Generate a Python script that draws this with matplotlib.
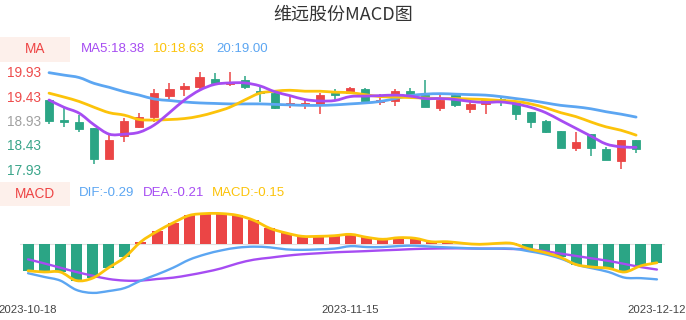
import numpy as np
import matplotlib.pyplot as plt
from matplotlib.patches import Rectangle, PathPatch
from matplotlib.path import Path

# ---- data ----
dates = ["2023-10-18", "2023-11-15", "2023-12-12"]
date_idx = [0, 20, 39]

opens = [19.34, 18.94, 18.89, 18.78, 18.15, 18.62, 18.80, 19.01, 19.44, 19.57,
         19.61, 19.79, 19.67, 19.75, 19.54, 19.50, 19.25, 19.27, 19.25, 19.49,
         19.49, 19.57, 19.30, 19.32, 19.53, 19.45, 19.18, 19.45, 19.16, 19.26,
         19.38, 19.30, 19.10, 18.91, 18.71, 18.36, 18.65, 18.34, 18.09, 18.53]
closes = [18.91, 18.90, 18.76, 18.15, 18.53, 18.91, 19.00, 19.50, 19.57, 19.64,
          19.83, 19.69, 19.69, 19.61, 19.49, 19.19, 19.29, 19.29, 19.45, 19.45,
          19.59, 19.32, 19.35, 19.53, 19.45, 19.21, 19.36, 19.25, 19.26, 19.34,
          19.33, 19.07, 18.89, 18.70, 18.37, 18.49, 18.36, 18.13, 18.53, 18.35]
highs = [19.36, 19.18, 19.04, 18.78, 18.63, 18.99, 19.08, 19.58, 19.69, 19.70,
         19.92, 19.91, 19.93, 19.84, 19.61, 19.50, 19.43, 19.35, 19.49, 19.57,
         19.61, 19.60, 19.47, 19.57, 19.60, 19.76, 19.45, 19.45, 19.35, 19.36,
         19.40, 19.30, 19.10, 18.94, 18.71, 18.69, 18.65, 18.39, 18.53, 18.53]
lows = [18.86, 18.80, 18.70, 18.03, 18.15, 18.48, 18.78, 18.89, 19.37, 19.43,
        19.56, 19.69, 19.63, 19.58, 19.30, 19.16, 19.19, 19.16, 19.07, 19.35,
        19.49, 19.32, 19.25, 19.22, 19.45, 19.21, 19.12, 19.21, 19.09, 19.06,
        19.23, 18.95, 18.78, 18.67, 18.37, 18.31, 18.20, 18.13, 17.93, 18.26]

ma5 = [19.35, 19.20, 19.08, 18.84, 18.65, 18.65, 18.69, 18.84, 19.09, 19.35,
       19.55, 19.67, 19.70, 19.70, 19.64, 19.52, 19.44, 19.36, 19.33, 19.34,
       19.42, 19.43, 19.44, 19.45, 19.43, 19.38, 19.38, 19.36, 19.32, 19.30,
       19.31, 19.27, 19.20, 19.09, 18.93, 18.77, 18.61, 18.45, 18.39, 18.38]
ma10 = [19.49, 19.41, 19.32, 19.20, 19.09, 19.04, 18.95, 18.94, 18.95, 18.97,
        19.02, 19.10, 19.20, 19.35, 19.49, 19.53, 19.55, 19.53, 19.53, 19.51,
        19.50, 19.46, 19.42, 19.41, 19.40, 19.39, 19.38, 19.38, 19.37, 19.36,
        19.34, 19.32, 19.27, 19.19, 19.09, 19.01, 18.90, 18.80, 18.73, 18.63]
ma20 = [19.91, 19.86, 19.81, 19.69, 19.61, 19.52, 19.45, 19.37, 19.34, 19.31,
        19.29, 19.28, 19.27, 19.27, 19.27, 19.26, 19.25, 19.24, 19.24, 19.25,
        19.27, 19.29, 19.32, 19.38, 19.44, 19.47, 19.48, 19.47, 19.46, 19.45,
        19.42, 19.38, 19.34, 19.29, 19.24, 19.21, 19.17, 19.11, 19.06, 19.00]

macd = [-0.22, -0.23, -0.23, -0.30, -0.28, -0.195, -0.11, 0.016, 0.10, 0.17,
        0.23, 0.245, 0.245, 0.23, 0.19, 0.125, 0.087, 0.06, 0.06, 0.065,
        0.076, 0.052, 0.036, 0.049, 0.044, 0.016, 0.016, 0.003, -0.005, 0.002,
        0.003, -0.04, -0.07, -0.11, -0.17, -0.19, -0.20, -0.23, -0.18, -0.155]
dif = [-0.24, -0.27, -0.30, -0.376, -0.40, -0.385, -0.36, -0.30, -0.25, -0.195,
       -0.13, -0.086, -0.054, -0.032, -0.024, -0.03, -0.046, -0.05, -0.046, -0.04,
       -0.02, -0.027, -0.027, -0.019, -0.016, -0.024, -0.03, -0.035, -0.04, -0.04,
       -0.04, -0.06, -0.084, -0.12, -0.17, -0.20, -0.23, -0.276, -0.28, -0.29]
dea = [-0.127, -0.16, -0.195, -0.23, -0.26, -0.287, -0.30, -0.30, -0.287, -0.276,
       -0.255, -0.23, -0.20, -0.16, -0.13, -0.114, -0.098, -0.086, -0.078, -0.07,
       -0.065, -0.06, -0.054, -0.049, -0.043, -0.04, -0.038, -0.038, -0.04, -0.04,
       -0.043, -0.046, -0.06, -0.08, -0.10, -0.12, -0.14, -0.165, -0.19, -0.21]

price_ticks = [17.93, 18.43, 18.93, 19.43, 19.93]
price_tick_colors = ["#3aa58a", "#3aa58a", "#a0a0a0", "#ee4b4b", "#ee4b4b"]

RED = "#eb4545"
GREEN = "#2ba585"
PURPLE = "#a64cf2"
YELLOW = "#fcc30a"
BLUE = "#5ca6f2"

W, H = 686, 320
fig = plt.figure(figsize=(W / 100, H / 100), dpi=100)
plt.rcParams["font.family"] = ["Liberation Sans", "DejaVu Sans"]


def px_axes(left, top, right, bottom):
    return fig.add_axes([left / W, 1 - bottom / H, (right - left) / W, (bottom - top) / H])


def smooth_line(ax, ys, color, lw, z):
    # curved line through the points (cubic bezier segments, like a smoothed echarts line)
    pts = np.column_stack([np.arange(len(ys)), ys]).astype(float)
    verts = [pts[0]]
    codes = [Path.MOVETO]
    n = len(pts)
    for i in range(n - 1):
        p0 = pts[max(i - 1, 0)]
        p1, p2 = pts[i], pts[i + 1]
        p3 = pts[min(i + 2, n - 1)]
        verts += [p1 + (p2 - p0) / 6, p2 - (p3 - p1) / 6, p2]
        codes += [Path.CURVE4] * 3
    ax.add_patch(PathPatch(Path(verts, codes), facecolor="none", edgecolor=color,
                           lw=lw, zorder=z, capstyle="round", joinstyle="round"))


x = np.arange(len(opens))

# ---- candlestick panel ----
ax = px_axes(41.5, 62, 643.6, 175)
for i in x:
    up = closes[i] >= opens[i]
    c = RED if up else GREEN
    ax.vlines(i, lows[i], highs[i], color=c, lw=1.1, zorder=2)
    lo, hi = min(opens[i], closes[i]), max(opens[i], closes[i])
    ax.add_patch(Rectangle((i - 0.27, lo), 0.54, max(hi - lo, 0.008),
                           facecolor=c, edgecolor=c, lw=0.6, zorder=3))
smooth_line(ax, ma20, BLUE, 2.0, 4)
smooth_line(ax, ma10, YELLOW, 2.0, 4)
smooth_line(ax, ma5, PURPLE, 2.0, 4)
ax.set_xlim(-0.5, len(opens) - 0.5)
ax.set_ylim(19.93 - (175 - 71.7) / 48.8, 19.93 + (71.7 - 62) / 48.8)
ax.set_yticks(price_ticks)
ax.set_yticklabels([f"{v:.2f}" for v in price_ticks], fontsize=9.8)
for lab, c in zip(ax.get_yticklabels(), price_tick_colors):
    lab.set_color(c)
ax.tick_params(axis="y", length=0, pad=0)
ax.set_xticks([])
for s in ax.spines.values():
    s.set_visible(False)
ax.patch.set_alpha(0)

# ---- MACD panel ----
ax2 = px_axes(20, 208, 665, 296)
bar_colors = [RED if v >= 0 else GREEN for v in macd]
ax2.bar(x, macd, width=0.68, color=bar_colors, zorder=2)
ax2.axhline(0, color="#e0e0e0", lw=0.8, zorder=1)
smooth_line(ax2, dea, PURPLE, 1.7, 3)
smooth_line(ax2, dif, BLUE, 1.7, 3)
smooth_line(ax2, macd, YELLOW, 2.0, 4)
ax2.set_xlim(-0.5, len(macd) - 0.5)
ax2.set_ylim(-(296 - 243.7) / 123, (243.7 - 208) / 123)
ax2.set_yticks([])
ax2.set_xticks(date_idx)
ax2.set_xticklabels(dates, fontsize=8.2, color="#444444")
ax2.tick_params(axis="x", length=0, pad=6.5)
for s in ax2.spines.values():
    s.set_visible(False)
ax2.patch.set_alpha(0)

# ---- title and legend rows ----
fig.text(343 / W, 1 - 15 / H, "维远股份MACD图", ha="center", va="center",
         fontsize=13, color="#333333", family=["Noto Sans CJK SC", "DejaVu Sans"])


def tag(label, top, bottom):
    fig.add_artist(Rectangle((0, 1 - bottom / H), 70 / W, (bottom - top) / H,
                             transform=fig.transFigure, facecolor="#fdf0eb",
                             edgecolor="none"))
    fig.text(35 / W, 1 - (top + bottom) / 2 / H, label, ha="center", va="center",
             fontsize=9.8, color="#ee4444")


tag("MA", 36.5, 61.5)
tag("MACD", 181.5, 205.5)
for txt, xp, c in [(f"MA5:{ma5[-1]:.2f}", 81, PURPLE), (f"10:{ma10[-1]:.2f}", 153, YELLOW),
                   (f"20:{ma20[-1]:.2f}", 216, BLUE)]:
    fig.text(xp / W, 1 - 49 / H, txt, ha="left", va="center", fontsize=9.5, color=c)
for txt, xp, c in [(f"DIF:{dif[-1]:.2f}", 79, BLUE), (f"DEA:{dea[-1]:.2f}", 143, PURPLE),
                   (f"MACD:{macd[-1]:.2f}", 212, YELLOW)]:
    fig.text(xp / W, 1 - 193 / H, txt, ha="left", va="center", fontsize=9.5, color=c)

fig.savefig("out.png", dpi=100)
